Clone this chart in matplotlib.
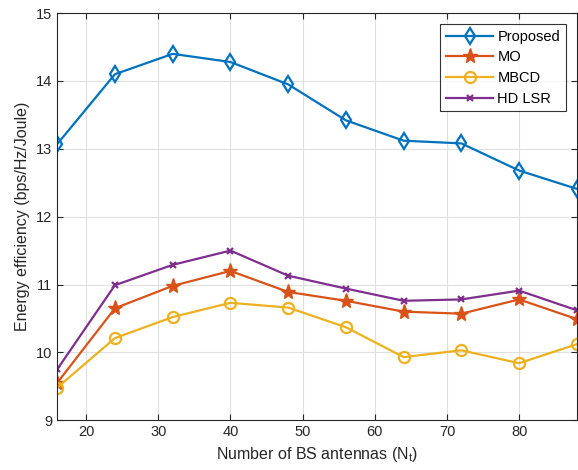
import matplotlib
matplotlib.use('Agg')
import matplotlib.pyplot as plt

plt.rcParams['font.family'] = ['Liberation Sans', 'DejaVu Sans']

antennas = [16, 24, 32, 40, 48, 56, 64, 72, 80, 88]
proposed = [13.07, 14.10, 14.40, 14.28, 13.95, 13.42, 13.12, 13.08, 12.68, 12.41]
mo = [9.55, 10.65, 10.98, 11.20, 10.89, 10.76, 10.60, 10.57, 10.78, 10.49]
mbcd = [9.48, 10.21, 10.52, 10.73, 10.66, 10.37, 9.93, 10.03, 9.84, 10.12]
hd_lsr = [9.75, 10.99, 11.29, 11.50, 11.13, 10.94, 10.76, 10.78, 10.91, 10.62]

fig = plt.figure(figsize=(5.78, 4.70), dpi=100)
ax = fig.add_axes([0.099, 0.106, 0.899, 0.866])

ax.plot(antennas, proposed, color='#0072BD', lw=1.6, marker='d', ms=8,
        mfc='none', mew=1.6, label='Proposed')
ax.plot(antennas, mo, color='#D95319', lw=1.6, marker='*', ms=11,
        mew=1.0, label='MO')
ax.plot(antennas, mbcd, color='#EDB120', lw=1.6, marker='o', ms=8,
        mfc='none', mew=1.6, label='MBCD')
ax.plot(antennas, hd_lsr, color='#7E2F8E', lw=1.6, marker='x', ms=5,
        mew=1.6, label='HD LSR')

ax.set_xlim(16, 88)
ax.set_ylim(9, 15)
ax.set_xticks([20, 30, 40, 50, 60, 70, 80])
ax.set_yticks([9, 10, 11, 12, 13, 14, 15])
ax.grid(True, color='#dfdfdf', lw=0.8)
ax.set_axisbelow(True)
ax.tick_params(direction='in', top=True, right=True, labelsize=10.5,
               colors='#262626', length=4)
for s in ax.spines.values():
    s.set_color('#262626')
    s.set_linewidth(0.8)

ax.set_xlabel('Number of BS antennas (N$_\\mathregular{t}$)', fontsize=11.5, color='#262626')
ax.set_ylabel('Energy efficiency (bps/Hz/Joule)', fontsize=11.5, color='#262626')

leg = ax.legend(loc='upper right', fancybox=False, edgecolor='black',
                fontsize=10.5, handlelength=3.2, borderaxespad=0.75,
                labelspacing=0.45, handletextpad=0.3, borderpad=0.4)
leg.get_frame().set_linewidth(0.8)

fig.savefig('out.png', dpi=100)
